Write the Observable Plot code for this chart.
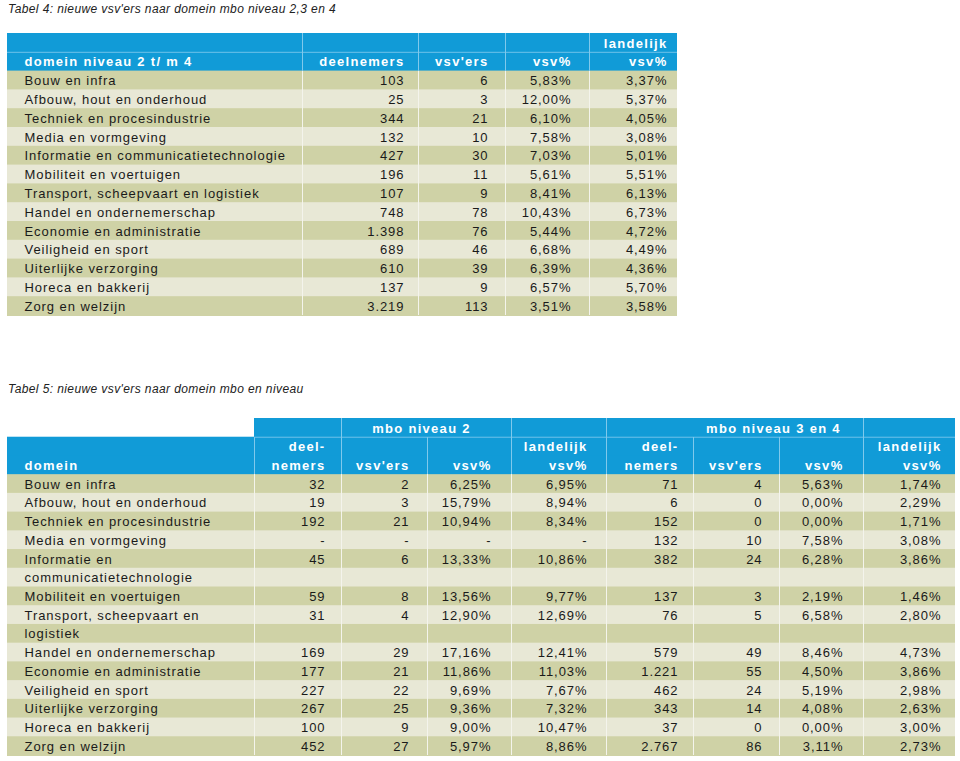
<!DOCTYPE html>
<html><head><meta charset="utf-8">
<script src="https://cdn.jsdelivr.net/npm/d3@7"></script>
<script src="https://cdn.jsdelivr.net/npm/@observablehq/plot@0.6"></script>
<style>
html,body{margin:0;padding:0;background:#fff;}
#page{position:relative;width:960px;height:761px;overflow:hidden;font-family:"Liberation Sans",Arial,sans-serif;}
.title{position:absolute;left:8px;font-style:italic;font-size:12px;line-height:14px;letter-spacing:0.4px;color:#222;white-space:nowrap;}
#t4{top:2px}
#t5{top:382px}
#c4{position:absolute;left:0;top:24px;width:960px}
#c5{position:absolute;left:0;top:410px;width:960px}
#c4 svg,#c5 svg{max-width:none;display:block}
svg text{letter-spacing:0.95px}
g[font-weight="bold"] text{letter-spacing:1.3px}
</style></head>
<body><div id="page">
<div class="title" id="t4"></div>
<div id="c4"></div>
<div class="title" id="t5"></div>
<div id="c5"></div>
</div>
<script>
// ---------------- DATA ----------------
const title4 = "Tabel 4: nieuwe vsv'ers naar domein mbo niveau 2,3 en 4";
const title5 = "Tabel 5: nieuwe vsv'ers naar domein mbo en niveau";

const domains = ["Bouw en infra","Afbouw, hout en onderhoud","Techniek en procesindustrie","Media en vormgeving","Informatie en communicatietechnologie","Mobiliteit en voertuigen","Transport, scheepvaart en logistiek","Handel en ondernemerschap","Economie en administratie","Veiligheid en sport","Uiterlijke verzorging","Horeca en bakkerij","Zorg en welzijn"];
// Table 5 shows two domain names wrapped over two lines
const domainLabels5 = ["Bouw en infra","Afbouw, hout en onderhoud","Techniek en procesindustrie","Media en vormgeving","Informatie en\ncommunicatietechnologie","Mobiliteit en voertuigen","Transport, scheepvaart en\nlogistiek","Handel en ondernemerschap","Economie en administratie","Veiligheid en sport","Uiterlijke verzorging","Horeca en bakkerij","Zorg en welzijn"];

// Tabel 4
const headerTop4 = ["", "", "", "", "landelijk"];
const headerBottom4 = ["domein niveau 2 t/ m 4", "deelnemers", "vsv'ers", "vsv%", "vsv%"];
const deelnemers4 = [103,25,344,132,427,196,107,748,1398,689,610,137,3219];
const vsvers4 = [6,3,21,10,30,11,9,78,76,46,39,9,113];
const vsvPct4 = [5.83,12.00,6.10,7.58,7.03,5.61,8.41,10.43,5.44,6.68,6.39,6.57,3.51];
const landelijk4 = [3.37,5.37,4.05,3.08,5.01,5.51,6.13,6.73,4.72,4.49,4.36,5.70,3.58];

// Tabel 5
const groups5 = ["mbo niveau 2", "mbo niveau 3 en 4"];
const headerTop5 = ["", "deel-", "", "", "landelijk", "deel-", "", "", "landelijk"];
const headerBottom5 = ["domein", "nemers", "vsv'ers", "vsv%", "vsv%", "nemers", "vsv'ers", "vsv%", "vsv%"];
const deelnemers2 = [32,19,192,null,45,59,31,169,177,227,267,100,452];
const vsvers2 = [2,3,21,null,6,8,4,29,21,22,25,9,27];
const vsvPct2 = [6.25,15.79,10.94,null,13.33,13.56,12.90,17.16,11.86,9.69,9.36,9.00,5.97];
const landelijk2 = [6.95,8.94,8.34,null,10.86,9.77,12.69,12.41,11.03,7.67,7.32,10.47,8.86];
const deelnemers34 = [71,6,152,132,382,137,76,579,1221,462,343,37,2767];
const vsvers34 = [4,0,0,10,24,3,5,49,55,24,14,0,86];
const vsvPct34 = [5.63,0.00,0.00,7.58,6.28,2.19,6.58,8.46,4.50,5.19,4.08,0.00,3.11];
const landelijk34 = [1.74,2.29,1.71,3.08,3.86,1.46,2.80,4.73,3.86,2.98,2.63,3.00,2.73];

// ---------------- LAYOUT & STYLE ----------------
const FONT = "'Liberation Sans', Arial, sans-serif";
const C = {blue:"#119bd7", dark:"#cfd2a6", light:"#e8e8d6", headerLine:"#6fc2ea",
           sepData:"#f4f4ec", sepHeader:"#7fc9ec", text:"#1a1a1a", white:"#ffffff"};
const L4 = {colWidths:[295,116,87,84,88], padLeft:17, padRight:[0,14,17,18,10], left:7, top:9, bottom:9, height:300};
const L5 = {colWidths:[247,87,86,84,95,87,86,84,92], padLeft:17, padRight:[0,16,18,20,19,15,17,20,14],
            left:7, top:8, bottom:6, height:351,
            groupCols:[[1,5],[5,9]], groupTextCols:[[2,4],[6,8]], groupTextShift:-5, groupSepEdges:[2,4,5,8]};

// ---------------- HELPERS ----------------
const loc = d3.formatLocale({decimal:",", thousands:".", grouping:[3], currency:["€",""]});
const fInt = v => v == null ? "-" : loc.format(",d")(v);
const fPct = v => v == null ? "-" : loc.format(".2f")(v) + "%";
function edgesOf(w){ const e=[0]; w.forEach(v=>e.push(e[e.length-1]+v)); return e; }
function cellText(L, edges, col, line, text, opts={}) {
  const start = col === 0;
  return {y: line, text,
    x: start ? edges[0] + L.padLeft : edges[col+1] - L.padRight[col],
    anchor: start ? "start" : "end", bold: !!opts.bold, fill: opts.fill || C.text};
}

function tableSVG(L, edges, lines, bars, dividers, seps, texts) {
  const total = edges[edges.length-1];
  const bw = (L.height - L.top - L.bottom) / lines.length;
  const textMarks = [];
  for (const anchor of ["start","end","middle"]) for (const bold of [false,true]) {
    const sub = texts.filter(t => t.anchor === anchor && t.bold === bold);
    if (sub.length) textMarks.push(Plot.text(sub, {x:"x", y:"y", text:"text", fill:"fill",
      textAnchor: anchor, fontWeight: bold ? "bold" : "normal", fontSize: 13, fontFamily: FONT, dy: 0.5}));
  }
  return Plot.plot({
    width: 960, height: L.height,
    marginLeft: L.left, marginRight: 960 - L.left - total, marginTop: L.top, marginBottom: L.bottom,
    x: {domain:[0,total], axis:null},
    y: {type:"band", domain: lines, axis:null, padding:0, round:false},
    color: {type:"identity"},
    style: {fontFamily: FONT, fontSize:"13px", background:"white"},
    marks: [
      // each band bar overlaps the next band by 1px (covered by the next bar) to avoid seams
      Plot.barX(bars, {x1:"x1", x2:"x2", y:"y", fill:"fill", insetBottom:-1}),
      Plot.barX(dividers, {x1:"x1", x2:"x2", y:"y", fill: C.headerLine, insetBottom: bw - 1}),
      Plot.ruleX(seps, {x:"x", y1:"y", y2:"y", stroke:"stroke", strokeWidth:1, shapeRendering:"crispEdges"}),
      ...textMarks
    ]
  });
}

// ---------------- TABEL 4 ----------------
{
  const edges = edgesOf(L4.colWidths), total = edges[edges.length-1];
  const hdr = ["h1","h2"], rows = domains.map((_,i)=>"r"+i), lines = [...hdr, ...rows];
  const cols = [domains, deelnemers4.map(fInt), vsvers4.map(fInt), vsvPct4.map(fPct), landelijk4.map(fPct)];
  const bars = [
    ...hdr.map(y => ({y, x1:0, x2:total, fill:C.blue})),
    ...rows.map((y,i) => ({y, x1:0, x2:total, fill: i%2 ? C.light : C.dark}))
  ];
  const dividers = [{y:"h2", x1:0, x2:total}];
  const seps = [];
  lines.forEach(y => { for (let k=1;k<edges.length-1;k++) seps.push({y, x:edges[k], stroke: hdr.includes(y) ? C.sepHeader : C.sepData}); });
  const texts = [];
  headerTop4.forEach((t,c) => { if (t) texts.push(cellText(L4, edges, c, "h1", t, {bold:true, fill:C.white})); });
  headerBottom4.forEach((t,c) => { if (t) texts.push(cellText(L4, edges, c, "h2", t, {bold:true, fill:C.white})); });
  rows.forEach((y,r) => cols.forEach((col,c) => texts.push(cellText(L4, edges, c, y, col[r]))));
  document.getElementById("t4").textContent = title4;
  document.getElementById("c4").appendChild(tableSVG(L4, edges, lines, bars, dividers, seps, texts));
}

// ---------------- TABEL 5 ----------------
{
  const edges = edgesOf(L5.colWidths), total = edges[edges.length-1];
  const hdr = ["g","h1","h2"];
  const cols = [null, deelnemers2.map(fInt), vsvers2.map(fInt), vsvPct2.map(fPct), landelijk2.map(fPct),
                deelnemers34.map(fInt), vsvers34.map(fInt), vsvPct34.map(fPct), landelijk34.map(fPct)];
  const dataLines = [];
  domainLabels5.forEach((label, r) => label.split("\n").forEach((part, j) =>
    dataLines.push({id: "d" + dataLines.length, label: part, r, first: j === 0})));
  const lines = [...hdr, ...dataLines.map(d => d.id)];
  const bars = [
    {y:"g", x1:edges[L5.groupCols[0][0]], x2:edges[L5.groupCols[1][1]], fill:C.blue},
    {y:"h1", x1:0, x2:total, fill:C.blue}, {y:"h2", x1:0, x2:total, fill:C.blue},
    ...dataLines.map((d,i) => ({y:d.id, x1:0, x2:total, fill: i%2 ? C.light : C.dark}))
  ];
  const dividers = [{y:"h1", x1:edges[L5.groupCols[0][0]], x2:total}];
  const seps = [];
  L5.groupSepEdges.forEach(k => seps.push({y:"g", x:edges[k], stroke:C.sepHeader}));
  ["h1","h2"].forEach(y => { for (let k=1;k<edges.length-1;k++) seps.push({y, x:edges[k], stroke:C.sepHeader}); });
  dataLines.forEach(d => { for (let k=1;k<edges.length-1;k++) seps.push({y:d.id, x:edges[k], stroke:C.sepData}); });
  const texts = [];
  groups5.forEach((g,i) => {
    const [a,b] = L5.groupTextCols[i];
    texts.push({y:"g", text:g, x:(edges[a]+edges[b])/2 + L5.groupTextShift, anchor:"middle", bold:true, fill:C.white});
  });
  headerTop5.forEach((t,c) => { if (t) texts.push(cellText(L5, edges, c, "h1", t, {bold:true, fill:C.white})); });
  headerBottom5.forEach((t,c) => { if (t) texts.push(cellText(L5, edges, c, "h2", t, {bold:true, fill:C.white})); });
  dataLines.forEach(d => {
    texts.push(cellText(L5, edges, 0, d.id, d.label));
    if (d.first) for (let c=1;c<cols.length;c++) texts.push(cellText(L5, edges, c, d.id, cols[c][d.r]));
  });
  document.getElementById("t5").textContent = title5;
  document.getElementById("c5").appendChild(tableSVG(L5, edges, lines, bars, dividers, seps, texts));
}
</script>
</body></html>
